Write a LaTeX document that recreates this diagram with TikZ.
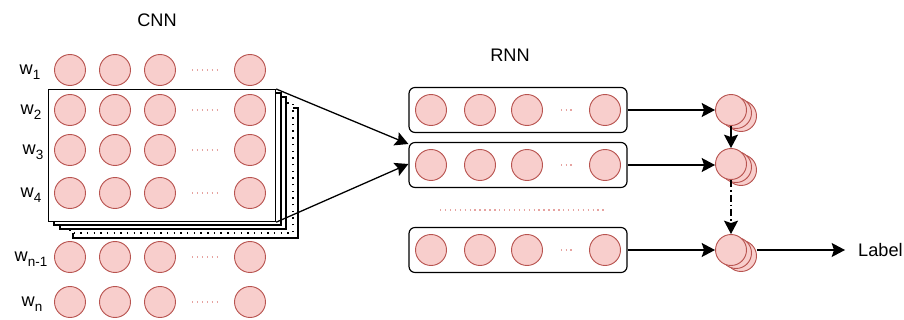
\documentclass[tikz,border=0pt]{standalone}
\usepackage{fontspec}
\setmainfont{Liberation Sans}
\usetikzlibrary{arrows.meta,calc,positioning}
\tikzset{>={Stealth[length=4mm,width=4.2mm,inset=0.7mm]}}
\definecolor{cellfill}{HTML}{F8CECC}
\definecolor{celldraw}{HTML}{B85450}
\definecolor{dotpink}{HTML}{E6A3A0}
\tikzset{
  cell/.style={circle,draw=celldraw,fill=cellfill,line width=0.8pt,minimum size=0.93cm,inner sep=0pt},
  card/.style={draw,fill=white,line width=1pt},
  layer/.style={draw,rounded corners=0.18cm,line width=1pt,minimum width=6.54cm,minimum height=1.35cm},
  gap/.style={dotpink,line width=1.2pt,dash pattern=on 1.2pt off 3pt},
  wire/.style={->,line width=1.1pt},
}
\newcommand{\wlab}[1]{w\raisebox{-0.5ex}{\fontsize{11.5}{12}\selectfont #1}}

\begin{document}
\begin{tikzpicture}[x=0.03cm,y=-0.03cm,font=\fontsize{15.5}{18}\selectfont]
  \useasboundingbox (0,0) rectangle (904,320);

  % Titles
  \node (cnn) at (157,20) {CNN};
  \node (rnn) at (510,55) {RNN};

  % Stack of feature maps
  \draw[card] (73,108) rectangle (298,238);
  \draw[fill=white,line width=1pt,dash pattern=on 1.2pt off 4.5pt] (70,103) rectangle (293,233);
  \draw[card] (60,97) rectangle (286,229);
  \draw[card] (54,93) rectangle (281,225);
  \node[card,anchor=north west,minimum width=6.81cm,minimum height=3.96cm] (map) at (48,89) {};

  % Word rows
  \foreach \r/\y/\t/\lx in {1/70/1/30,2/110/2/31,3/150/3/33,4/193/4/31,5/257/n-1/31,6/302/n/32} {
    \node (w\r) at (\lx,\y+2) {\wlab{\t}};
    \foreach \c/\x in {1/70,2/115,3/160,4/250}
      \node[cell] (c\r\c) at (\x,\y) {};
    \draw[gap] (192,\y) -- (221,\y);
  }

  % Recurrent layers
  \foreach \b/\y in {1/110,2/165,3/250} {
    \node[layer] (seq\b) at (518,\y) {};
    \foreach \c/\x in {1/431,2/480,3/527,4/605}
      \node[cell] (r\b\c) at (\x,\y) {};
    \draw[gap,dash pattern=on 1pt off 3pt] (561,\y) -- (574,\y);
  }
  \draw[gap] (440,210) -- (604,210);

  % Hidden states
  \foreach \k/\y in {1/110,2/164,3/250} {
    \node[cell] (h\k b) at (741,\y+6) {};
    \node[cell] (h\k a) at (736,\y+3) {};
    \node[cell] (h\k) at (731,\y) {};
  }
  \node[anchor=west,inner sep=0pt] (label) at (858,250) {Label};

  % Connections
  \draw[wire] (map.north east) -- ($(seq2.west)+(0,-21)$);
  \draw[wire] (map.south east) -- ($(seq2.west)+(0,-1)$);
  \draw[wire] (seq1.east) -- (seq1.east -| h1.west);
  \draw[wire] (seq2.east) -- (seq2.east -| h2.west);
  \draw[wire] (seq3.east) -- (seq3.east -| h3.west);
  \draw[wire] (h1.south) -- (h2.north);
  \draw[wire,dash pattern=on 6pt off 2.5pt on 1.5pt off 2.5pt] (h2.south) -- (h3.north);
  \draw[wire] (h3b.east |- h3.east) -- ($(label.west |- h3.east)+(-13,0)$);
\end{tikzpicture}
\end{document}
